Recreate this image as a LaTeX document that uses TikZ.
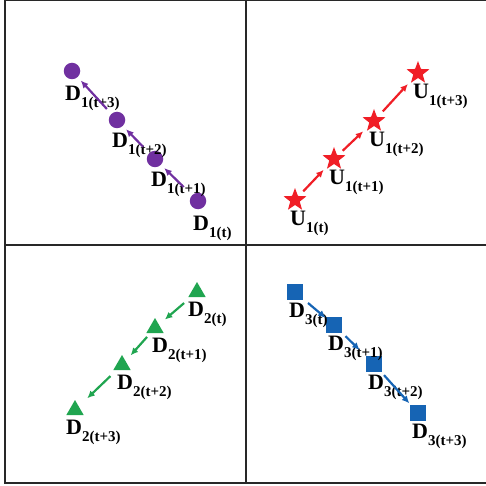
\documentclass[tikz,border=0pt]{standalone}
\usepackage{fontspec}
\setmainfont{Liberation Serif}
\usepackage{tikz}
\usetikzlibrary{shapes.geometric, arrows.meta, positioning}
\definecolor{dpurple}{RGB}{112, 48, 160}
\definecolor{ured}{RGB}{240, 30, 38}
\definecolor{dgreen}{RGB}{32, 165, 80}
\definecolor{dblue}{RGB}{22, 100, 180}
\definecolor{framegray}{RGB}{40, 40, 40}

\newcommand{\statelbl}[2]{{\bfseries #1}\raisebox{-6.5pt}{\fontsize{15}{15}\selectfont\bfseries #2}}

\begin{document}
\begin{tikzpicture}[
    x=1pt, y=-1pt,
    every node/.style={font=\fontsize{22}{22}\selectfont},
    lbl/.style={anchor=north west, inner sep=0pt, text=black},
    cir/.style={circle, fill=dpurple, minimum size=16.5pt, inner sep=0pt},
    star5/.style={star, star points=5, star point ratio=2.4, fill=ured, minimum size=24pt, inner sep=0pt},
    tri/.style={regular polygon, regular polygon sides=3, fill=dgreen, minimum size=20pt, inner sep=0pt},
    sqr/.style={rectangle, fill=dblue, minimum size=16pt, inner sep=0pt},
    arrow/.style={-{Latex[length=7.5pt, width=7pt]}, line width=2.2pt}
]
\useasboundingbox (0,0) rectangle (485,486);

% Frame
\draw[framegray, line width=1.4pt] (486,0.8) -- (5,0.8) -- (5,483) -- (486,483);
\draw[framegray, line width=1.2pt] (246,0.8) -- (246,483);
\draw[framegray, line width=1.2pt] (5,245) -- (486,245);

% D1 (purple)
\node[cir] (cir0) at (198,201) {};
\node[cir] (cir1) at (155,159) {};
\node[cir] (cir2) at (117,120) {};
\node[cir] (cir3) at (72,71) {};
\node[lbl] (cir0lbl) at ([shift={(-5,15)}]cir0.center) {\statelbl{D}{1(t)}};
\node[lbl] (cir1lbl) at ([shift={(-4,13)}]cir1.center) {\statelbl{D}{1(t+1)}};
\node[lbl] (cir2lbl) at ([shift={(-5,13)}]cir2.center) {\statelbl{D}{1(t+2)}};
\node[lbl] (cir3lbl) at ([shift={(-7,15)}]cir3.center) {\statelbl{D}{1(t+3)}};
\draw[arrow, dpurple, shorten <=20pt, shorten >=13pt] (cir0.center) -- (cir1.center);
\draw[arrow, dpurple, shorten <=17pt, shorten >=13pt] (cir1.center) -- (cir2.center);
\draw[arrow, dpurple, shorten <=15pt, shorten >=13pt] (cir2.center) -- (cir3.center);

% U1 (red)
\node[star5] (star0) at (295,200) {};
\node[star5] (star1) at (334,159) {};
\node[star5] (star2) at (374,121) {};
\node[star5] (star3) at (418,73) {};
\node[lbl] (star0lbl) at ([shift={(-5,11)}]star0.center) {\statelbl{U}{1(t)}};
\node[lbl] (star1lbl) at ([shift={(-5,11)}]star1.center) {\statelbl{U}{1(t+1)}};
\node[lbl] (star2lbl) at ([shift={(-5,11)}]star2.center) {\statelbl{U}{1(t+2)}};
\node[lbl] (star3lbl) at ([shift={(-5,11)}]star3.center) {\statelbl{U}{1(t+3)}};
\draw[arrow, ured, shorten <=12pt, shorten >=15pt] (star0.center) -- (star1.center);
\draw[arrow, ured, shorten <=12pt, shorten >=15pt] (star1.center) -- (star2.center);
\draw[arrow, ured, shorten <=13pt, shorten >=15pt] (star2.center) -- (star3.center);

% D2 (green)
\node[tri] (tri0) at (197,292) {};
\node[tri] (tri1) at (155,328) {};
\node[tri] (tri2) at (122,365) {};
\node[tri] (tri3) at (75,410) {};
\node[lbl] (tri0lbl) at ([shift={(-9,10)}]tri0.center) {\statelbl{D}{2(t)}};
\node[lbl] (tri1lbl) at ([shift={(-3,10)}]tri1.center) {\statelbl{D}{2(t+1)}};
\node[lbl] (tri2lbl) at ([shift={(-5,10)}]tri2.center) {\statelbl{D}{2(t+2)}};
\node[lbl] (tri3lbl) at ([shift={(-9,10)}]tri3.center) {\statelbl{D}{2(t+3)}};
\draw[arrow, dgreen, shorten <=17pt, shorten >=13pt] (tri0.center) -- (tri1.center);
\draw[arrow, dgreen, shorten <=12pt, shorten >=13pt] (tri1.center) -- (tri2.center);
\draw[arrow, dgreen, shorten <=16pt, shorten >=17pt] (tri2.center) -- (tri3.center);

% D3 (blue)
\node[sqr] (sq0) at (295,292) {};
\node[sqr] (sq1) at (334,325) {};
\node[sqr] (sq2) at (374,364) {};
\node[sqr] (sq3) at (418,413) {};
\node[lbl] (sq0lbl) at ([shift={(-6,11)}]sq0.center) {\statelbl{D}{3(t)}};
\node[lbl] (sq1lbl) at ([shift={(-6,11)}]sq1.center) {\statelbl{D}{3(t+1)}};
\node[lbl] (sq2lbl) at ([shift={(-6,11)}]sq2.center) {\statelbl{D}{3(t+2)}};
\node[lbl] (sq3lbl) at ([shift={(-6,11)}]sq3.center) {\statelbl{D}{3(t+3)}};
\draw[arrow, dblue, shorten <=17pt, shorten >=11pt] (sq0.center) -- (sq1.center);
\draw[arrow, dblue, shorten <=16pt, shorten >=20pt] (sq1.center) -- (sq2.center);
\draw[arrow, dblue, shorten <=15pt, shorten >=13pt] (sq2.center) -- (sq3.center);

\end{tikzpicture}
\end{document}
